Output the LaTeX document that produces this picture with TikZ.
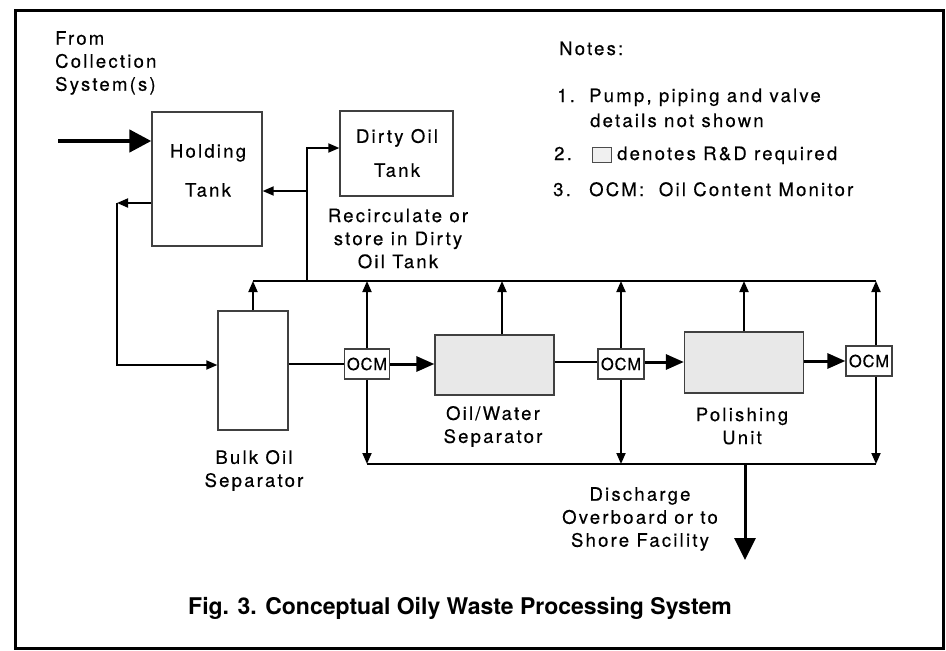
\documentclass[tikz,border=0pt]{standalone}
\usepackage{fontspec}
\setmainfont{TeX Gyre Heros}
\newfontfamily\spc[LetterSpace=12,FakeBold=0.4]{TeX Gyre Heros}
\newfontfamily\ocmfont[LetterSpace=5,FakeBold=0.4]{TeX Gyre Heros}
\usetikzlibrary{arrows.meta}
\begin{document}
\begin{tikzpicture}[x=1pt,y=-1pt,
  unit/.style={draw=black!75, line width=1.3pt, inner sep=0pt},
  shaded/.style={fill=black!9},
  lbl/.style={font=\spc\fontsize{18.5}{23}\selectfont, align=center, inner sep=0pt},
  note/.style={font=\spc\fontsize{18.5}{23}\selectfont, inner sep=0pt, anchor=base west},
  ocm/.style={unit, font=\ocmfont\fontsize{16.5}{16.5}\selectfont, minimum width=45pt, minimum height=30pt},
  thin/.style={line width=1.8pt, -{Triangle[length=11pt,width=9pt]}},
  pipe/.style={line width=1.8pt},
  mainpipe/.style={line width=2.6pt},
  thick/.style={line width=3pt, -{Triangle[length=18pt,width=15pt]}}
]
\useasboundingbox (0,0) rectangle (946,651);
\draw[line width=3pt] (15,10) rectangle (943,648);

% units
\node[unit, minimum width=110pt, minimum height=134pt] (hold) at (207,179) {};
\node[unit, minimum width=113pt, minimum height=85pt] (dirty) at (396.5,153.5) {};
\node[unit, minimum width=70pt, minimum height=119pt] (bulk) at (253,370.5) {};
\node[ocm] (ocm1) at (367,364) {OCM};
\node[unit, shaded, minimum width=119pt, minimum height=60pt] (ow) at (494.5,365) {};
\node[ocm, minimum width=46pt] (ocm2) at (621,364) {OCM};
\node[unit, shaded, minimum width=119pt, minimum height=61pt] (pol) at (744,362.5) {};
\node[ocm, minimum width=46pt] (ocm3) at (869,361) {OCM};

% labels
\node[lbl, align=left, anchor=west] (from) at (55,63) {From\\Collection\\System(s)};
\node[lbl, font=\spc\fontsize{18.5}{39}\selectfont] (holdt) at (208,170.5) {Holding\\Tank};
\node[lbl, font=\spc\fontsize{18.5}{34}\selectfont] (dirtyt) at (397,153) {Dirty Oil\\Tank};
\node[lbl] (recirc) at (398,238.5) {Recirculate or\\store in Dirty\\Oil Tank};
\node[lbl] (bulkt) at (254,470.5) {Bulk Oil\\Separator};
\node[lbl] (owt) at (493,426.5) {Oil/Water\\Separator};
\node[lbl] (polt) at (742,426) {Polishing\\Unit};
\node[lbl] (dist) at (640,519) {Discharge\\Overboard or to\\Shore Facility};

% notes
\node[note] (notes) at (559,55) {Notes:};
\node[note] (n1) at (557,102) {1.};
\node[note] (n1a) at (589,102) {Pump, piping and valve};
\node[note] (n1b) at (590,127) {details not shown};
\node[note] (n2) at (554,160) {2.};
\node[draw=black!70, fill=black!6, line width=1pt, minimum width=19pt, minimum height=15pt, inner sep=0pt] (legbox) at (601.5,154.5) {};
\node[note] (n2a) at (617,160) {denotes R\&D required};
\node[note] (n3) at (553,196) {3.};
\node[note] (n3a) at (589,196) {OCM:\ \ Oil Content Monitor};

\node[font=\bfseries\fontsize{23}{23}\selectfont, inner sep=0pt, anchor=base] (title) at (460,614) {Fig. 3. Conceptual Oily Waste Processing System};

% input
\coordinate (in) at (58,141);
\draw[line width=4.5pt, -{Triangle[length=22pt,width=22pt]}] (in) -- (in -| hold.west);

% recirculation to dirty oil tank / holding tank
\coordinate (rc) at (307,281);
\coordinate (rcb) at (307,191);
\draw[thin] (rc) |- ([yshift=5.5pt]dirty.west);
\draw[thin] (rcb) -- (rcb -| hold.east);

% holding tank <-> bulk oil separator
\coordinate (hc) at (117,203);
\coordinate (bc) at (117,365);
\draw[thin] (hc -| hold.west) -- (hc);
\draw[thin] (hc) -- (bc) -- (bc -| bulk.west);

% top collector
\coordinate (tlL) at (253,281);
\coordinate (tlR) at (876,281);
\draw[pipe] (tlL) -- (tlR);
% bottom collector
\coordinate (blL) at (367,464);
\coordinate (blR) at (876,464);
\draw[pipe] (blL) -- (blR);

% up arrows
\draw[thin] (bulk.north) -- (bulk.north |- tlL);
\draw[thin] (ocm1.north) -- (ocm1.north |- tlL);
\draw[thin] ([xshift=7.5pt]ow.north) -- ([xshift=7.5pt]ow.north |- tlL);
\draw[thin] (ocm2.north) -- (ocm2.north |- tlL);
\draw[thin] (pol.north) -- (pol.north |- tlL);
\draw[thin] ([xshift=7pt]ocm3.north) -- ([xshift=7pt]ocm3.north |- tlL);

% down arrows
\draw[thin] (ocm1.south) -- (ocm1.south |- blL);
\draw[thin] (ocm2.south) -- (ocm2.south |- blL);
\draw[thin] ([xshift=7pt]ocm3.south) -- ([xshift=7pt]ocm3.south |- blL);

% main flow
\draw[mainpipe] (ocm1.west -| bulk.east) -- (ocm1.west);
\draw[thick] (ocm1.east) -- (ocm1.east -| ow.west);
\draw[mainpipe] ([yshift=2pt]ocm2.west -| ow.east) -- ([yshift=2pt]ocm2.west);
\draw[thick] ([yshift=2pt]ocm2.east) -- ([yshift=2pt]ocm2.east -| pol.west);
\draw[thick] (ocm3.west -| pol.east) -- (ocm3.west);

% discharge
\coordinate (dis) at (745,464);
\coordinate (out) at (745,560);
\draw[line width=3pt, -{Triangle[length=22pt,width=21pt]}] (dis) -- (out);
\end{tikzpicture}
\end{document}
